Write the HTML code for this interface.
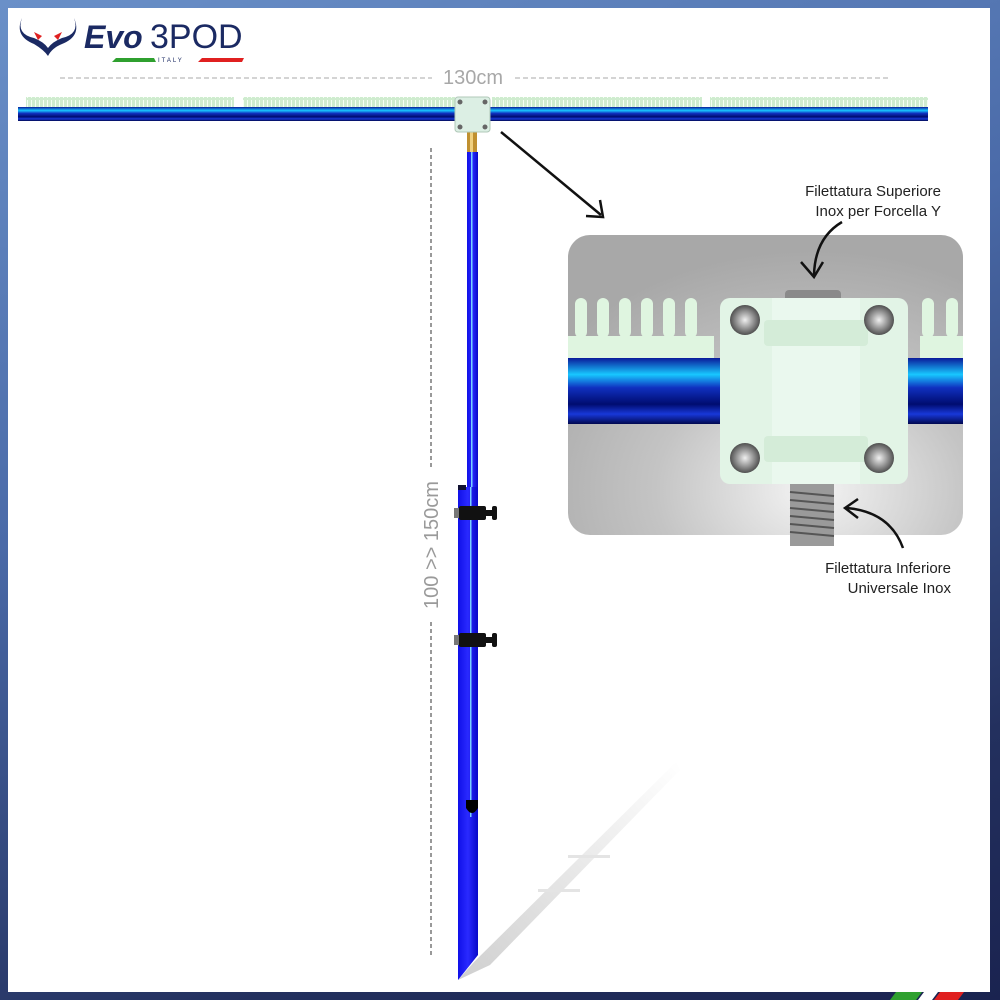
<!DOCTYPE html>
<html><head><meta charset="utf-8"><style>
html,body{margin:0;padding:0;width:1000px;height:1000px;overflow:hidden}
body{background:linear-gradient(160deg,#6a90c8 0%,#4a6aa8 40%,#23305e 80%,#1a2350 100%)}
svg{position:absolute;left:0;top:0}
text{font-family:"Liberation Sans",sans-serif}
</style></head><body>
<svg width="1000" height="1000" viewBox="0 0 1000 1000">
<defs>
<linearGradient id="rail" x1="0" y1="0" x2="0" y2="1">
<stop offset="0" stop-color="#0a1a9a"/><stop offset="0.25" stop-color="#18c8ff"/><stop offset="0.45" stop-color="#1030c0"/><stop offset="0.7" stop-color="#000c70"/><stop offset="0.85" stop-color="#1838d8"/><stop offset="1" stop-color="#000850"/></linearGradient>
<radialGradient id="panel" cx="0.62" cy="0.85" r="0.8"><stop offset="0" stop-color="#f4f4f4"/><stop offset="0.5" stop-color="#c4c4c4"/><stop offset="1" stop-color="#a8a8a8"/></radialGradient>
<linearGradient id="shadow" x1="0" y1="1" x2="1" y2="0"><stop offset="0" stop-color="#cfcfcf"/><stop offset="1" stop-color="#ffffff"/></linearGradient>
<linearGradient id="pole" x1="0" y1="0" x2="1" y2="0"><stop offset="0" stop-color="#1010e8"/><stop offset="0.5" stop-color="#2a2aff"/><stop offset="1" stop-color="#0808c8"/></linearGradient>
<pattern id="comb" width="4" height="10" patternUnits="userSpaceOnUse"><rect width="4" height="10" fill="#cfeccf"/><rect x="3" width="1" height="8" fill="#f4fff4"/></pattern>
<radialGradient id="bolt"><stop offset="0" stop-color="#f0f0f0"/><stop offset="0.6" stop-color="#909090"/><stop offset="1" stop-color="#505050"/></radialGradient>
</defs>
<rect x="8" y="8" width="982" height="984" fill="#fff"/>
<!-- logo -->
<path d="M22 18 Q14 36 34 44 Q44 50 48 56 Q52 48 62 44 Q82 36 74 18 Q80 34 62 38 Q52 42 48 48 Q44 42 34 38 Q16 34 22 18Z" fill="#1b2a63"/>
<path d="M34 32 l8 4 -4 4z M62 32 l-8 4 4 4z" fill="#e02020"/>
<text x="84" y="48" font-size="32" font-weight="bold" font-style="italic" fill="#1b2a63">Evo</text>
<text x="150" y="48" font-size="34" fill="#1b2a63">3POD</text>
<polygon points="112,62 156,62 154,58 116,58" fill="#2fa02f"/>
<text x="158" y="62" font-size="6" fill="#1b2a63" letter-spacing="2">ITALY</text>
<polygon points="198,62 242,62 244,58 202,58" fill="#e02020"/>
<!-- 130cm -->
<line x1="60" y1="78" x2="432" y2="78" stroke="#aaa" stroke-dasharray="5,3"/>
<line x1="515" y1="78" x2="888" y2="78" stroke="#aaa" stroke-dasharray="5,3"/>
<text x="473" y="84" font-size="20" fill="#a8a8a8" text-anchor="middle">130cm</text>
<!-- rail -->
<rect x="26" y="97" width="208" height="10" fill="url(#comb)"/>
<rect x="243" y="97" width="212" height="10" fill="url(#comb)"/>
<rect x="492" y="97" width="210" height="10" fill="url(#comb)"/>
<rect x="710" y="97" width="218" height="10" fill="url(#comb)"/>
<rect x="18" y="107" width="910" height="14" fill="url(#rail)"/>
<!-- small block -->
<rect x="467" y="132" width="10" height="20" fill="#c09030"/>
<rect x="470" y="132" width="3" height="20" fill="#f0d080"/>
<rect x="455" y="97" width="35" height="35" rx="3" fill="#dcefe4" stroke="#b0c8b8"/>
<circle cx="460" cy="102" r="2.5" fill="#666"/><circle cx="485" cy="102" r="2.5" fill="#666"/>
<circle cx="460" cy="127" r="2.5" fill="#666"/><circle cx="485" cy="127" r="2.5" fill="#666"/>
<!-- arrow -->
<line x1="501" y1="132" x2="601" y2="215" stroke="#111" stroke-width="2.5"/>
<polyline points="600,200 603,217 586,216" fill="none" stroke="#111" stroke-width="2.5"/>
<!-- shadow -->
<polygon points="458,980 474,962 676,762 680,770 490,965" fill="url(#shadow)"/>
<g fill="#e4e4e4"><rect x="568" y="855" width="42" height="3"/><rect x="538" y="889" width="42" height="3"/></g>
<!-- height dim -->
<line x1="431" y1="148" x2="431" y2="468" stroke="#999" stroke-dasharray="4,3" stroke-width="2"/>
<line x1="431" y1="622" x2="431" y2="955" stroke="#999" stroke-dasharray="4,3" stroke-width="2"/>
<text transform="translate(438,545) rotate(-90)" font-size="20" fill="#9a9a9a" text-anchor="middle">100 &gt;&gt; 150cm</text>
<!-- pole -->
<rect x="467" y="152" width="11" height="340" fill="url(#pole)"/>
<rect x="471" y="152" width="1.5" height="340" fill="#7ad0ff"/>
<polygon points="458,487 478,487 478,955 458,980" fill="url(#pole)"/>
<rect x="470" y="487" width="1.5" height="330" fill="#7ad0ff"/>
<rect x="458" y="485" width="8" height="5" fill="#101030"/>
<path d="M466 800 h12 v8 q-6 10 -12 0z" fill="#000"/>
<g fill="#111"><rect x="459" y="506" width="27" height="14" rx="2"/><rect x="486" y="510" width="6" height="6"/><rect x="492" y="506" width="5" height="14" rx="2"/><rect x="454" y="508" width="5" height="10" fill="#777"/></g>
<g fill="#111"><rect x="459" y="633" width="27" height="14" rx="2"/><rect x="486" y="637" width="6" height="6"/><rect x="492" y="633" width="5" height="14" rx="2"/><rect x="454" y="635" width="5" height="10" fill="#777"/></g>
<!-- panel -->
<rect x="568" y="235" width="395" height="300" rx="22" fill="url(#panel)"/>
<clipPath id="pc"><rect x="568" y="235" width="395" height="300" rx="22"/></clipPath>
<g clip-path="url(#pc)">
<rect x="568" y="358" width="395" height="66" fill="url(#rail)"/>
<rect x="568" y="336" width="146" height="22" fill="#dff5e0"/>
<g fill="#dff5e0">
<rect x="575" y="298" width="12" height="40" rx="6"/><rect x="597" y="298" width="12" height="40" rx="6"/><rect x="619" y="298" width="12" height="40" rx="6"/><rect x="641" y="298" width="12" height="40" rx="6"/><rect x="663" y="298" width="12" height="40" rx="6"/><rect x="685" y="298" width="12" height="40" rx="6"/>
<rect x="920" y="336" width="43" height="22"/><rect x="922" y="298" width="12" height="40" rx="6"/><rect x="946" y="298" width="12" height="40" rx="6"/>
</g>
</g>
<rect x="785" y="290" width="56" height="12" rx="4" fill="#8a8a8a"/>
<rect x="790" y="484" width="44" height="62" fill="#9a9a9a"/>
<g stroke="#555" stroke-width="2"><line x1="790" y1="492" x2="834" y2="496"/><line x1="790" y1="500" x2="834" y2="504"/><line x1="790" y1="508" x2="834" y2="512"/><line x1="790" y1="516" x2="834" y2="520"/><line x1="790" y1="524" x2="834" y2="528"/><line x1="790" y1="532" x2="834" y2="536"/></g>
<rect x="720" y="298" width="188" height="186" rx="10" fill="#e2f4e6"/>
<rect x="772" y="298" width="88" height="186" fill="#eaf8ee"/>
<rect x="764" y="320" width="104" height="26" rx="4" fill="#d4ecd8"/>
<rect x="764" y="436" width="104" height="26" rx="4" fill="#d4ecd8"/>
<circle cx="745" cy="320" r="15" fill="url(#bolt)"/><circle cx="879" cy="320" r="15" fill="url(#bolt)"/>
<circle cx="745" cy="458" r="15" fill="url(#bolt)"/><circle cx="879" cy="458" r="15" fill="url(#bolt)"/>
<!-- labels -->
<text x="941" y="196" font-size="15" fill="#222" text-anchor="end">Filettatura Superiore</text>
<text x="941" y="216" font-size="15" fill="#222" text-anchor="end">Inox per Forcella Y</text>
<path d="M842 222 Q815 238 814 275" fill="none" stroke="#111" stroke-width="2.5"/>
<polyline points="801,262 814,277 823,262" fill="none" stroke="#111" stroke-width="2.5"/>
<path d="M903 548 Q890 512 847 508" fill="none" stroke="#111" stroke-width="2.5"/>
<polyline points="858,499 845,508 858,518" fill="none" stroke="#111" stroke-width="2.5"/>
<text x="951" y="573" font-size="15" fill="#222" text-anchor="end">Filettatura Inferiore</text>
<text x="951" y="593" font-size="15" fill="#222" text-anchor="end">Universale Inox</text>
<!-- flag bottom -->
<polygon points="890,1000 896,992 922,992 916,1000" fill="#2fa02f"/>
<polygon points="918,1000 924,992 938,992 932,1000" fill="#fff"/>
<polygon points="934,1000 940,992 964,992 958,1000" fill="#e02020"/>
</svg>
</body></html>
